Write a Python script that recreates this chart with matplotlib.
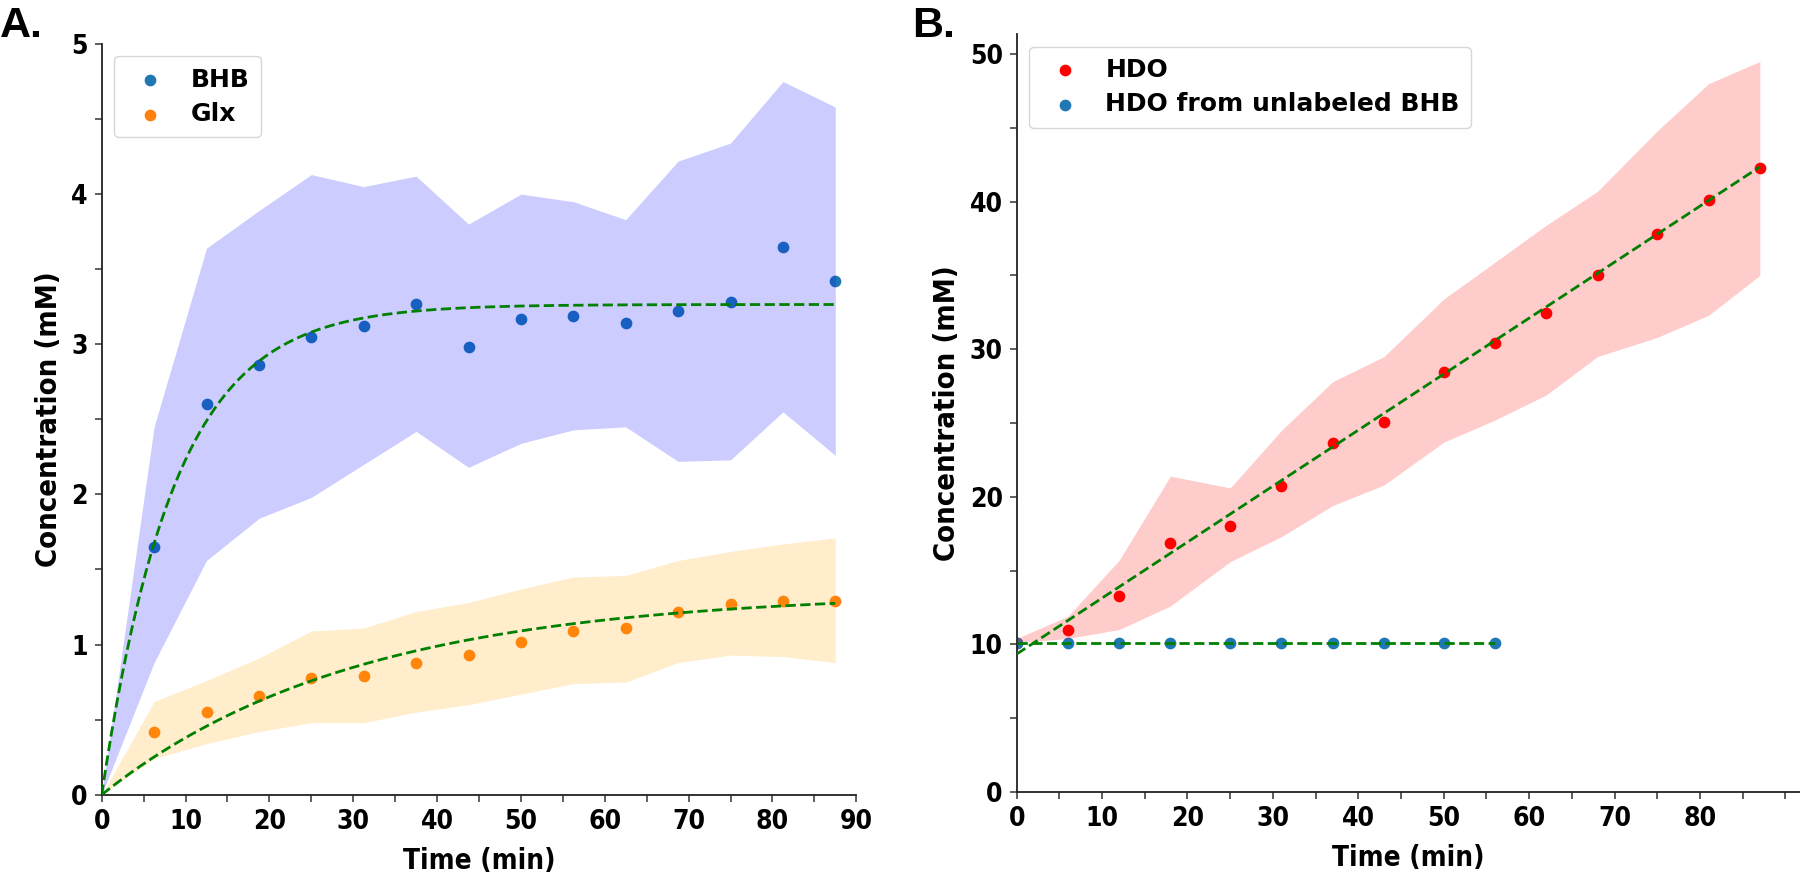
import matplotlib
matplotlib.use("Agg")
import matplotlib.pyplot as plt
import numpy as np
from matplotlib.ticker import MultipleLocator

plt.rcParams['font.family'] = ['DejaVu Sans']
plt.rcParams['font.weight'] = 'bold'

# panel A: BHB and Glx
t_a = [6.25, 12.5, 18.75, 25, 31.25, 37.5, 43.75, 50, 56.25, 62.5, 68.75, 75, 81.25, 87.5]
bhb = [1.65, 2.60, 2.86, 3.05, 3.12, 3.27, 2.98, 3.17, 3.19, 3.14, 3.22, 3.28, 3.65, 3.42]
bhb_hi = [2.45, 3.64, 3.89, 4.13, 4.05, 4.12, 3.80, 4.00, 3.95, 3.83, 4.22, 4.34, 4.75, 4.58]
bhb_lo = [0.88, 1.56, 1.84, 1.98, 2.20, 2.42, 2.18, 2.34, 2.43, 2.45, 2.22, 2.23, 2.55, 2.26]
glx = [0.42, 0.55, 0.66, 0.78, 0.79, 0.88, 0.93, 1.02, 1.09, 1.11, 1.22, 1.27, 1.29, 1.29]
glx_hi = [0.62, 0.76, 0.91, 1.09, 1.11, 1.22, 1.28, 1.37, 1.45, 1.46, 1.56, 1.62, 1.67, 1.71]
glx_lo = [0.24, 0.34, 0.42, 0.48, 0.48, 0.55, 0.60, 0.67, 0.74, 0.75, 0.88, 0.93, 0.92, 0.88]

# fit parameters  y = A * (1 - exp(-k t))
bhb_fit = (3.265, 0.115)
glx_fit = (1.35, 0.033)

# panel B: HDO
t_b = [0, 6, 12, 18, 25, 31, 37, 43, 50, 56, 62, 68, 75, 81, 87]
hdo = [10.1, 10.97, 13.27, 16.84, 18.01, 20.75, 23.62, 25.08, 28.45, 30.39, 32.47, 35.02, 37.78, 40.08, 42.29]
hdo_hi = [10.4, 11.9, 15.7, 21.4, 20.6, 24.5, 27.8, 29.5, 33.4, 35.9, 38.4, 40.7, 44.8, 48.0, 49.5]
hdo_lo = [10.1, 10.4, 11.0, 12.6, 15.6, 17.3, 19.4, 20.8, 23.7, 25.2, 26.9, 29.5, 30.8, 32.3, 35.0]
t_unl = [0, 6, 12, 18, 25, 31, 37, 43, 50, 56]
hdo_unl = [10.1, 10.1, 10.1, 10.1, 10.1, 10.1, 10.1, 10.1, 10.1, 10.1]

# linear fits: intercept, slope
hdo_fit = (9.34, 0.3795)
unl_fit = (10.1, 0.0)

fig = plt.figure(figsize=(18, 8.76), dpi=100)
ax1 = fig.add_axes([0.0565, 0.0928, 0.4192, 0.857])
ax2 = fig.add_axes([0.5648, 0.096, 0.4352, 0.865])

# ---- panel A
ax1.scatter(t_a, bhb, s=55, color='#1f77b4', label='BHB', zorder=2)
ax1.scatter(t_a, glx, s=55, color='#ff7f0e', label='Glx', zorder=2)
ax1.fill_between([0] + t_a, [0] + bhb_lo, [0] + bhb_hi, color='blue', alpha=0.2, lw=0, zorder=3)
ax1.fill_between([0] + t_a, [0] + glx_lo, [0] + glx_hi, color='orange', alpha=0.2, lw=0, zorder=3)
tt = np.linspace(0, t_a[-1], 300)
ax1.plot(tt, bhb_fit[0] * (1 - np.exp(-bhb_fit[1] * tt)), '--', color='green', lw=2, zorder=4)
ax1.plot(tt, glx_fit[0] * (1 - np.exp(-glx_fit[1] * tt)), '--', color='green', lw=2, zorder=4)
ax1.set_xlim(0, 90)
ax1.set_ylim(0, 5)
ax1.xaxis.set_major_locator(MultipleLocator(10))
ax1.xaxis.set_minor_locator(MultipleLocator(5))
ax1.yaxis.set_major_locator(MultipleLocator(1))
ax1.yaxis.set_minor_locator(MultipleLocator(0.5))

# ---- panel B
ax2.scatter(t_b, hdo, s=55, color='red', label='HDO', zorder=2)
ax2.scatter(t_unl, hdo_unl, s=55, color='#1f77b4', label='HDO from unlabeled BHB', zorder=2)
ax2.fill_between(t_b, hdo_lo, hdo_hi, color='red', alpha=0.2, lw=0, zorder=3)
tb = np.array([0, t_b[-1]])
tu = np.array([0, t_unl[-1]])
ax2.plot(tb, hdo_fit[0] + hdo_fit[1] * tb, '--', color='green', lw=2, zorder=4)
ax2.plot(tu, unl_fit[0] + unl_fit[1] * tu, '--', color='green', lw=2, zorder=4)
ax2.set_xlim(0, 91.7)
ax2.set_ylim(0, 51.35)
ax2.set_xticks(np.arange(0, 90, 10))
ax2.xaxis.set_minor_locator(MultipleLocator(5))
ax2.yaxis.set_major_locator(MultipleLocator(10))
ax2.yaxis.set_minor_locator(MultipleLocator(5))

for ax in (ax1, ax2):
    ax.spines['top'].set_visible(False)
    ax.spines['right'].set_visible(False)
    for s in ('left', 'bottom'):
        ax.spines[s].set_linewidth(1.3)
        ax.spines[s].set_color('#222222')
    ax.tick_params(which='both', length=5, width=1.1, color='#333333', pad=5)
    for lab in ax.get_xticklabels() + ax.get_yticklabels():
        lab.set_fontweight('bold')
        lab.set_fontstretch('condensed')
        lab.set_fontsize(19)
    ax.set_xlabel('Time (min)', fontsize=20, fontweight='bold', fontstretch='condensed',
                  labelpad=9)
    ax.set_ylabel('Concentration (mM)', fontsize=21, fontweight='bold',
                  fontstretch='condensed', labelpad=6)
    leg = ax.legend(loc='upper left', fontsize=18, handletextpad=0.6,
                    scatterpoints=1, borderpad=0.45, labelspacing=0.42)
    for txt in leg.get_texts():
        txt.set_fontweight('bold')

fig.text(0.0, 0.993, 'A.', fontsize=31, fontweight='bold', family='Liberation Sans',
         va='top', ha='left')
fig.text(0.507, 0.993, 'B.', fontsize=31, fontweight='bold', family='Liberation Sans',
         va='top', ha='left')

fig.savefig('out.png', dpi=100)
